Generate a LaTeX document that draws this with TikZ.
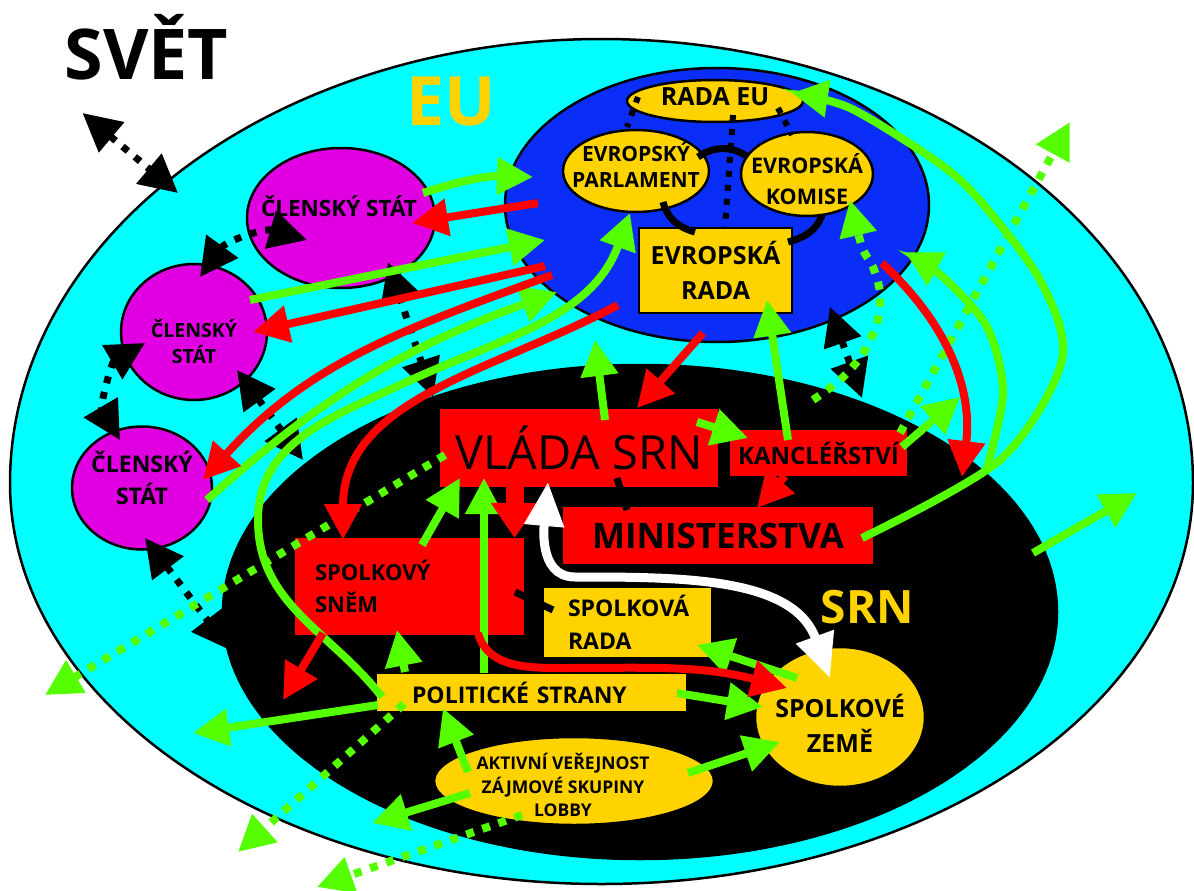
\documentclass[tikz,border=0pt]{standalone}
\usepackage{fontspec}
\setmainfont{Open Sans}
\usetikzlibrary{arrows.meta,shapes.geometric,calc}

\definecolor{skyring}{HTML}{00FFFF}
\definecolor{eublue}{HTML}{0A2EF8}
\definecolor{memberpink}{HTML}{E100E1}
\definecolor{boxgold}{HTML}{FFD300}
\definecolor{boxred}{HTML}{FF0000}
\definecolor{flowgreen}{HTML}{55FF00}

\tikzset{
  fs/.style 2 args={font=\fontsize{#1}{#2}\selectfont\bfseries},
  area/.style={ellipse,draw=black,line width=2.5pt,inner sep=0pt},
  member/.style={area,fill=memberpink},
  organ/.style={area,fill=boxgold},
  redbox/.style={rectangle,fill=boxred,inner sep=0pt},
  goldbox/.style={rectangle,fill=boxgold,draw=black,line width=2pt,inner sep=0pt},
  txt/.style={align=center,inner sep=0pt,text=black},
  gflow/.style={draw=flowgreen,line width=8pt,->,>={Triangle[length=36pt,width=36pt]}},
  rflow/.style={draw=boxred,line width=8pt,->,>={Triangle[length=36pt,width=36pt]}},
  gdots/.style={gflow,dash pattern=on 8pt off 9pt},
  blink/.style={draw=black,line width=7pt,dash pattern=on 7pt off 9pt,<->,>={Triangle[length=38pt,width=38pt]}},
  bdots/.style={draw=black,line width=6pt,dash pattern=on 6pt off 8pt},
  bbar/.style={draw=black,line width=7pt},
  wflow/.style={draw=white,line width=9pt,<->,>={Triangle[length=44pt,width=38pt]}},
}

\begin{document}
\begin{tikzpicture}[x=1pt,y=1pt]
  \fill[white] (0,0) rectangle (1194,-891);
  \useasboundingbox (0,0) rectangle (1194,-891);

  % regions
  \coordinate (world) at (601.5,-483);
  \draw[fill=skyring,line width=2.5pt] (10,-483)
       arc[start angle=180,end angle=0,x radius=591.5,y radius=444]
       arc[start angle=0,end angle=-180,x radius=591.5,y radius=401] -- cycle;
  \node[area,fill=black,minimum width=834pt,minimum height=494pt] (srn) at (640,-612) {};
  \node[area,fill=eublue,minimum width=424pt,minimum height=274pt] (eu) at (717,-205) {};

  \node[fs={70}{70},anchor=base] (svet) at (146.5,-80) {SVĚT};
  \node[fs={68}{68},text=boxgold,anchor=base] (eulbl) at (451,-125) {EU};
  \node[fs={46}{46},text=boxgold,anchor=base] (srnlbl) at (867.5,-623) {SRN};

  % EU
  \node[organ,minimum width=176pt,minimum height=42pt,
        label={[txt,fs={25}{25},yshift=4.5pt]center:RADA EU}] (radaeu) at (715,-101) {};
  \node[organ,minimum width=146pt,minimum height=82pt,
        label={[txt,fs={21}{26},yshift=6pt]center:EVROPSKÝ\\PARLAMENT}] (parl) at (636,-171) {};
  \node[organ,minimum width=132pt,minimum height=84pt,
        label={[txt,fs={21.5}{31},yshift=-5.5pt]center:EVROPSKÁ\\KOMISE}] (komise) at (807,-174) {};
  \node[goldbox,minimum width=153pt,minimum height=85pt,txt,fs={25}{35}] (evrada) at (715.5,-270.5) {EVROPSKÁ\\RADA};

  % member states
  \node[member,minimum width=188pt,minimum height=140pt,
        label={[txt,fs={22.5}{22.5},xshift=-2pt,yshift=12pt]center:ČLENSKÝ STÁT}] (cs1) at (341,-218) {};
  \node[member,minimum width=146pt,minimum height=136pt,
        label={[txt,fs={19.5}{26},yshift=-10pt]center:ČLENSKÝ\\STÁT}] (cs2) at (194,-332) {};
  \node[member,minimum width=140pt,minimum height=123pt,
        label={[txt,fs={23}{32},yshift=10pt]center:ČLENSKÝ\\STÁT}] (cs3) at (142,-488) {};

  % SRN
  \node[redbox,minimum width=278pt,minimum height=78pt,font=\fontsize{47}{47}\selectfont] (vlada) at (579,-448) {VLÁDA SRN};
  \node[redbox,minimum width=177pt,minimum height=46pt,fs={24}{24}] (kanc) at (818.5,-453) {KANCLÉŘSTVÍ};
  \node[redbox,minimum width=310pt,minimum height=57pt,fs={35}{35}] (minis) at (718,-535.5) {MINISTERSTVA};
  \node[redbox,minimum height=97pt,text width=189pt,inner xsep=20pt,align=left,fs={22}{32}] (snem) at (409.5,-586.5) {SPOLKOVÝ\\SNĚM};
  \node[goldbox,minimum height=71pt,text width=119pt,inner xsep=25pt,align=left,fs={23}{33.5}] (sprada) at (627.5,-622.5) {SPOLKOVÁ\\RADA};
  \node[goldbox,minimum height=39pt,text width=239pt,inner xsep=36pt,align=left,fs={23}{23}] (polit) at (531.5,-692.5) {POLITICKÉ STRANY};
  \node[organ,minimum width=280pt,minimum height=88pt,
        label={[txt,fs={17.5}{23.5},xshift=-11pt,yshift=-4pt]center:AKTIVNÍ VEŘEJNOST\\ZÁJMOVÉ SKUPINY\\LOBBY}] (aktiv) at (574,-781) {};
  \node[organ,minimum width=170pt,minimum height=140pt,
        label={[txt,fs={25}{35.5},yshift=-6.5pt]center:SPOLKOVÉ\\ZEMĚ}] (zeme) at (840,-717) {};

  % black links
  \draw[blink] ($(svet.base)+(-64,-33)$) -- ($(world)+(-423.5,290)$);
  \draw[blink] ($(cs1)+(-34,-22)$) to[bend right=35] ($(cs2)+(6,55)$);
  \draw[blink] ($(cs2)+(-49,-11)$) to[bend right=45] ($(cs3)+(-22,48)$);
  \draw[blink] ($(cs2)+(43,-38)$) -- ($(srn)+(-337,152)$);
  \draw[blink] ($(cs3)+(3,-50)$) -- ($(srn)+(-410,-38)$);
  \draw[blink] ($(cs1)+(47,-44)$) -- ($(srn)+(-207,215)$);
  \draw[blink] ($(eu)+(113,-102)$) -- ($(srn)+(222,214)$);

  \draw[bdots] ($(radaeu)+(18,-14)$) -- ($(evrada)+(9.5,42.5)$);
  \draw[bdots] ($(radaeu)+(-77,4)$) -- ($(parl)+(-9,44)$);
  \draw[bdots] ($(radaeu)+(63,-7)$) -- ($(komise)+(-15,39)$);

  \draw[bbar] ($(parl)+(62,14)$) to[bend left=35] ($(komise)+(-59,17)$);
  \draw[bbar] ($(parl)+(27,-31)$) to[out=-75,in=165] ($(evrada)+(-20.5,38.5)$);
  \draw[bbar] ($(komise)+(15,-41)$) to[out=-110,in=15] ($(evrada)+(72.5,28.5)$);
  \draw[bbar] ($(vlada)+(38,-30)$) -- ($(minis)+(-91,25.5)$);
  \draw[bbar] ($(snem)+(105.5,-5.5)$) -- ($(sprada)+(-74.5,12.5)$);

  % green flows
  \draw[gflow] ($(cs1)+(82,25)$) to[bend left=10] ($(eu)+(-184,28)$);
  \draw[gflow] ($(cs2)+(56,32)$) -- ($(eu)+(-172,-35)$);
  \draw[gflow] ($(cs3)+(65,-12)$) to[out=42,in=200] ($(eu)+(-160,-87)$);
  \draw[gflow] ($(polit)+(-149.5,-4.5)$) to[out=128,in=-90] (258,-520)
       to[out=90,in=205] (400,-385) to[out=25,in=-110] ($(parl)+(-6,-42)$);
  \draw[gflow] ($(polit)+(-153.5,-12.5)$) -- ($(srn)+(-447,-121)$);
  \draw[gflow] ($(polit)+(-126.5,20.5)$) -- ($(snem)+(-12.5,-43.5)$);
  \draw[gflow] ($(polit)+(-47.5,19.5)$) -- ($(vlada)+(-95,-30)$);
  \draw[gflow] ($(snem)+(12.5,41.5)$) -- ($(vlada)+(-119,-30)$);
  \draw[gflow] ($(aktiv)+(-106,9)$) -- ($(polit)+(-88.5,-15.5)$);
  \draw[gflow] ($(aktiv)+(-104,-12)$) -- ($(srn)+(-268,-211)$);
  \draw[gflow] ($(aktiv)+(114,8)$) -- ($(zeme)+(-60,-25)$);
  \draw[gflow] ($(polit)+(145.5,-0.5)$) -- ($(zeme)+(-77,10)$);
  \draw[gflow] ($(zeme)+(-43,39)$) -- ($(sprada)+(69.5,-22.5)$);
  \draw[gflow] ($(vlada)+(118,26)$) -- ($(kanc)+(-70.5,15)$);
  \draw[gflow] ($(kanc)+(83.5,6)$) -- ($(srn)+(320,215)$);
  \draw[gflow] plot[smooth] coordinates {($(minis)+(144,-2.5)$) (1000,-460) (1062,-360) (1040,-280)
       (975,-195) (930,-157) (850,-108) ($(radaeu)+(77,8)$)};
  \draw[gflow] plot[smooth] coordinates {(srn.22) (1003,-393) (987,-327) (943,-277) ($(eu)+(188,-47)$)};
  \draw[gflow] ($(kanc)+(-30.5,13)$) -- ($(evrada)+(51.5,-29.5)$);
  \draw[gflow] ($(vlada)+(26,28)$) -- ($(eu)+(-122,-135)$);
  \draw[gflow] ($(srn)+(393,59)$) -- ($(srn)+(497,119)$);

  % green dotted
  \draw[gdots] ($(vlada)+(-134,-7)$) -- ($(srn)+(-595,-83)$);
  \draw[gdots] ($(polit)+(-127.5,-11.5)$) -- ($(srn)+(-402,-240)$);
  \draw[gdots] ($(aktiv)+(-52,-34)$) -- ($(srn)+(-323,-275)$);
  \draw[gdots] plot[smooth] coordinates {($(srn)+(173,212)$) (840,-380) (862,-355) (877,-323)
       (880,-293) (873,-267) (862,-247) ($(komise)+(43,-26)$)};
  \draw[gdots] ($(kanc)+(81.5,20)$) -- ($(srn)+(430,490)$);

  % red flows
  \draw[rflow] ($(eu)+(-179,2)$) -- ($(cs1)+(71,-5)$);
  \draw[rflow] ($(eu)+(-172,-61)$) -- ($(cs2)+(59,0)$);
  \draw[rflow] ($(eu)+(-165,-70)$) to[out=200,in=48] ($(cs3)+(61,8)$);
  \draw[rflow] ($(eu)+(-99,-100)$) to[out=208,in=90] ($(snem)+(-66.5,46.5)$);
  \draw[rflow] ($(evrada)+(-12.5,-62.5)$) -- ($(vlada)+(58,40)$);
  \draw[rflow] ($(eu)+(165,-58)$) to[out=-43,in=83] ($(srn)+(322,135)$);
  \draw[rflow] ($(kanc)+(-33.5,-23)$) -- ($(minis)+(39,27.5)$);
  \draw[rflow] ($(snem)+(-86.5,-46.5)$) -- ($(srn)+(-357,-88)$);
  \draw[rflow] ($(snem)+(68.5,-46.5)$) to[out=-75,in=180] (560,-668)
       to[out=0,in=165] ($(zeme)+(-53,29)$);
  \draw[rflow,line width=18pt,>={Triangle[length=35pt,width=46pt]}] ($(vlada)+(-64,-39)$) -- ($(snem)+(105,48.5)$);

  % white
  \draw[wflow] ($(vlada)+(-31,-34)$) to[out=-95,in=180] (575,-577)
       to[out=0,in=110] ($(zeme)+(-10,39)$);
\end{tikzpicture}
\end{document}
